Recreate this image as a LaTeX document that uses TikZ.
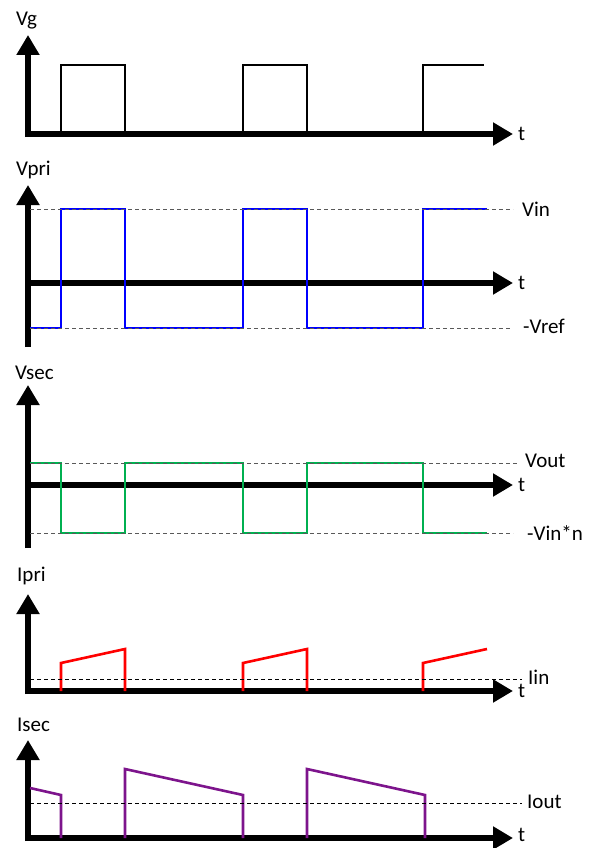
\documentclass[tikz,border=0pt]{standalone}
\usepackage{fontspec}
\setmainfont{Carlito}
\usetikzlibrary{arrows.meta, positioning}

\definecolor{sgreen}{RGB}{0,176,80}
\definecolor{spurple}{RGB}{125,20,140}

\tikzset{
  axis/.style = {line width=6.5pt, -{Triangle[width=22pt,length=20pt]}},
  wave/.style = {line width=2.6pt, line join=miter},
  level/.style = {line width=1pt, dash pattern=on 4pt off 3pt},
  lbl/.style = {inner sep=0pt, anchor=west, font=\fontsize{21}{24}\selectfont}
}

\begin{document}
\begin{tikzpicture}[x=1pt, y=-1pt]
      \useasboundingbox (0,0) rectangle (589,848);
      % axes
      \foreach \top/\bot/\ax in {35/137/134, 185/347/283, 385/548/485, 594/694/691, 740/841/838}
      {
      \draw[axis] (28,\bot) -- (28,\top);
      \draw[axis] (25,\ax) -- (513,\ax);
      }
      % Vg
      \foreach \s in {61,243}
      \draw[wave] (\s,134) -- (\s,65) -- (\s+64,65) -- (\s+64,134);
      \draw[wave] (423,134) -- (423,65) -- (484,65);
      % Vpri
      \draw[wave, blue] (30,328) -- (61,328) -- (61,209) -- (125,209) -- (125,328) -- (243,328) -- (243,209)
            -- (307,209) -- (307,328) -- (423,328) -- (423,209) -- (487,209);
      \draw[level, black!65] (30,209) -- (513,209);
      \draw[level, black!65] (30,328) -- (510,328);
      % Vsec
      \draw[wave, sgreen] (30,463) -- (61,463) -- (61,533) -- (125,533) -- (125,463) -- (243,463) -- (243,533)
            -- (307,533) -- (307,463) -- (423,463) -- (423,533) -- (487,533);
      \draw[level, black!65] (30,463) -- (517,463);
      \draw[level, black!65] (30,533) -- (513,533);
      % Ipri
      \foreach \s in {61,243}
      \draw[wave, red] (\s,691) -- (\s,663) -- (\s+64,649) -- (\s+64,691);
      \draw[wave, red] (423,691) -- (423,663) -- (487,649);
      \draw[level] (30,679) -- (522,679);
      % Isec
      \draw[wave, spurple] (30,788) -- (61,795) -- (61,838);
      \foreach \s in {125,307}
      \draw[wave, spurple] (\s,838) -- (\s,769) -- (\s+118,795) -- (\s+118,838);
      \draw[level] (30,803) -- (522,803);
      % labels
      \node[lbl] (vg) at (16,21) {Vg};
      \node[lbl] (vpri) at (16,170) {Vpri};
      \node[lbl] (vsec) at (15,373) {Vsec};
      \node[lbl] (ipri) at (17,576) {Ipri};
      \node[lbl] (isec) at (17,725) {Isec};
      \foreach \ax in {134,283,485,691,835}
      \node[lbl] at (518,\ax) {t};
      \node[lbl] (vin) at (522,209) {Vin};
      \node[lbl] (vref) at (523,326) {-Vref};
      \node[lbl] (vout) at (525,461) {Vout};
      \node[lbl] (vinn) at (527,533) {-Vin*n};
      \node[lbl] (iin) at (528,677) {Iin};
      \node[lbl] (iout) at (527,802) {Iout};
\end{tikzpicture}
\end{document}
